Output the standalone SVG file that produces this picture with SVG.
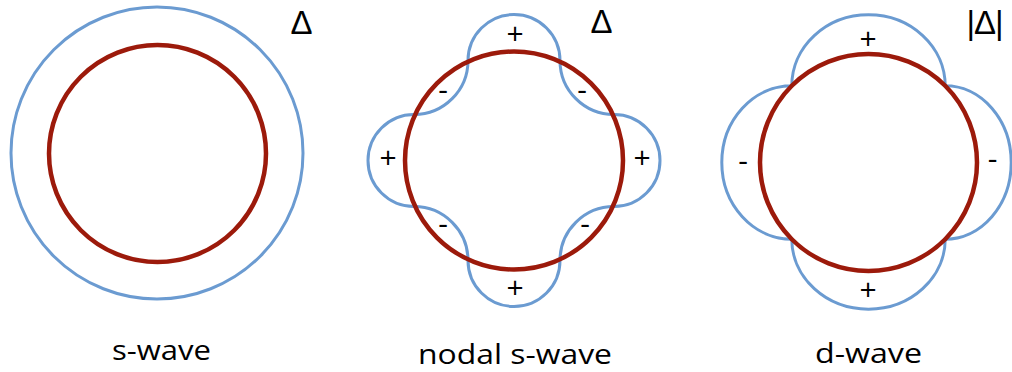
<svg xmlns="http://www.w3.org/2000/svg" width="1012" height="372" viewBox="0 0 1012 372">
<style>
.gap{fill:none;stroke:#6b9bd1;stroke-width:3}
.fs{fill:none;stroke:#9c1a0b;stroke-width:4.5}
text{font-family:"Open Sans","Liberation Sans",sans-serif;fill:#000}
.d{font-family:"Liberation Sans",Arial,sans-serif;font-size:33px;text-anchor:middle}
.s{font-size:30px;text-anchor:middle}
.lbl{font-size:28px}
</style>
<rect width="1012" height="372" fill="#fff"/>
<g id="s-wave">
<circle class="gap" cx="157" cy="153" r="146"/>
<circle class="fs" cx="157.5" cy="153.5" r="108.5"/>
<text class="d" x="301.5" y="34">Δ</text>
<text class="lbl" x="112" y="360" textLength="99" lengthAdjust="spacingAndGlyphs">s-wave</text>
</g>
<g id="nodal-s-wave">
<path class="gap" d="M468,60.5 A46,46 0 0 1 560,60.5 A54,54 0 0 0 614,114.5 A46,46 0 0 1 614,206.5 A54,54 0 0 0 560,260.5 A46,46 0 0 1 468,260.5 A54,54 0 0 0 414,206.5 A46,46 0 0 1 414,114.5 A54,54 0 0 0 468,60.5 Z"/>
<circle class="fs" cx="514" cy="160.5" r="109"/>
<text class="d" x="601.5" y="33">Δ</text>
<text class="s" x="515" y="44.3">+</text>
<text class="s" x="388" y="167.8">+</text>
<text class="s" x="642" y="167.8">+</text>
<text class="s" x="515" y="297.8">+</text>
<text class="s" x="443" y="100">-</text>
<text class="s" x="582" y="100">-</text>
<text class="s" x="443" y="234">-</text>
<text class="s" x="585" y="234">-</text>
<text class="lbl" x="418" y="364" textLength="194" lengthAdjust="spacingAndGlyphs">nodal s-wave</text>
</g>
<g id="d-wave">
<path class="gap" d="M791.8,85.8 A76.7,71 0 0 1 945.2,85.8 A66,76.7 0 0 1 945.2,239.2 A76.7,70 0 0 1 791.8,239.2 A70,76.7 0 0 1 791.8,85.8 Z"/>
<circle class="fs" cx="868.5" cy="162.5" r="108.5"/>
<text class="d" x="984.5" y="34" letter-spacing="-1">|Δ|</text>
<text class="s" x="868" y="48.8">+</text>
<text class="s" x="868" y="299.8">+</text>
<text class="s" x="743" y="171">-</text>
<text class="s" x="992.5" y="169">-</text>
<text class="lbl" x="815" y="363" textLength="107" lengthAdjust="spacingAndGlyphs">d-wave</text>
</g>
<g id="connectors"></g>
</svg>
